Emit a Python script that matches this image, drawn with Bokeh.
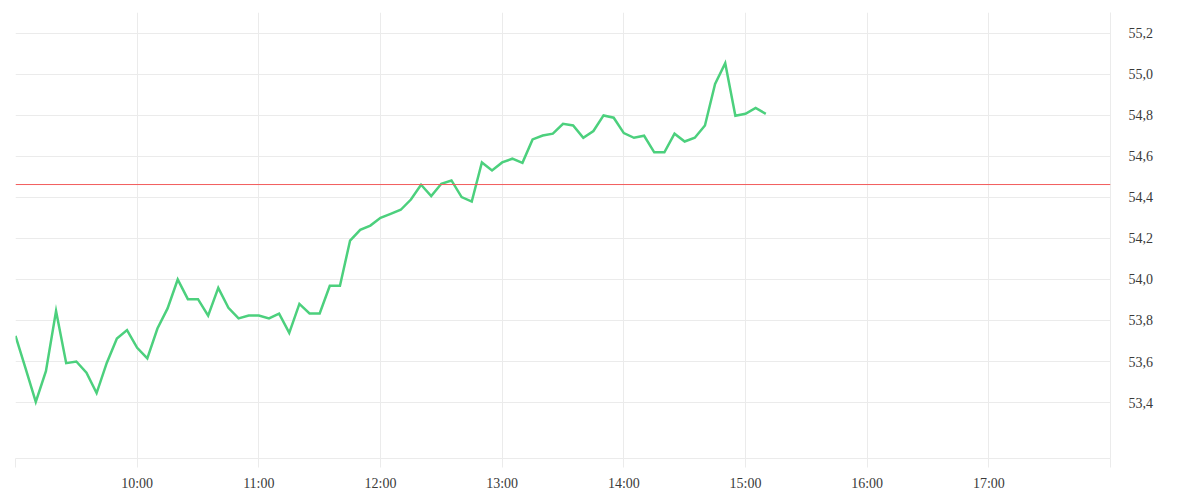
from bokeh.plotting import figure
from bokeh.models import Range1d, FixedTicker, Span, LinearAxis, ColumnDataSource
from bokeh.embed import file_html
from bokeh.resources import INLINE

times = ["09:00", "09:05", "09:10", "09:15", "09:20", "09:25", "09:30", "09:35", "09:40", "09:45",
         "09:50", "09:55", "10:00", "10:05", "10:10", "10:15", "10:20", "10:25", "10:30", "10:35",
         "10:40", "10:45", "10:50", "10:55", "11:00", "11:05", "11:10", "11:15", "11:20", "11:25",
         "11:30", "11:35", "11:40", "11:45", "11:50", "11:55", "12:00", "12:05", "12:10", "12:15",
         "12:20", "12:25", "12:30", "12:35", "12:40", "12:45", "12:50", "12:55", "13:00", "13:05",
         "13:10", "13:15", "13:20", "13:25", "13:30", "13:35", "13:40", "13:45", "13:50", "13:55",
         "14:00", "14:05", "14:10", "14:15", "14:20", "14:25", "14:30", "14:35", "14:40", "14:45",
         "14:50", "14:55", "15:00", "15:05", "15:10"]
prices = [53.725, 53.565, 53.403, 53.553, 53.846, 53.592, 53.600, 53.545, 53.446, 53.593,
          53.712, 53.753, 53.667, 53.615, 53.761, 53.859, 54.000, 53.904, 53.904, 53.824,
          53.959, 53.862, 53.810, 53.824, 53.824, 53.810, 53.833, 53.740, 53.881, 53.834,
          53.834, 53.969, 53.969, 54.190, 54.242, 54.263, 54.301, 54.320, 54.340, 54.390,
          54.462, 54.407, 54.467, 54.483, 54.402, 54.380, 54.571, 54.532, 54.571, 54.589,
          54.569, 54.683, 54.702, 54.711, 54.759, 54.751, 54.691, 54.724, 54.800, 54.789,
          54.714, 54.691, 54.701, 54.620, 54.620, 54.711, 54.673, 54.691, 54.751, 54.954,
          55.055, 54.798, 54.808, 54.837, 54.808]
reference_price = 54.463

x_hours = [9, 10, 11, 12, 13, 14, 15, 16, 17, 18]
x_labels = ["", "10:00", "11:00", "12:00", "13:00", "14:00", "15:00", "16:00", "17:00", ""]
y_ticks = [53.4, 53.6, 53.8, 54.0, 54.2, 54.4, 54.6, 54.8, 55.0, 55.2]
y_labels = ["53,4", "53,6", "53,8", "54,0", "54,2", "54,4", "54,6", "54,8", "55,0", "55,2"]


def to_hours(t):
    h, m = t.split(":")
    return int(h) + int(m) / 60.0


src = ColumnDataSource(dict(x=[to_hours(t) for t in times], y=prices))

GRID = "#ebebeb"
FONT = "Liberation Serif"
TEXT = "#3a3a3a"

p = figure(frame_width=1095, frame_height=446, output_backend="svg", toolbar_location=None,
           x_range=Range1d(9, 18), y_range=Range1d(53.127, 55.302),
           y_axis_location=None, min_border_left=15, min_border_top=12,
           min_border_right=5, min_border_bottom=0)
p.outline_line_color = None
p.background_fill_color = "white"
p.border_fill_color = "white"

# x axis
xa = p.xaxis[0]
xa.ticker = FixedTicker(ticks=x_hours)
xa.major_label_overrides = {h: l for h, l in zip(x_hours, x_labels)}
xa.minor_tick_line_color = None
xa.major_tick_in = 0
xa.major_tick_out = 9
xa.major_tick_line_color = GRID
xa.axis_line_color = GRID
xa.major_label_standoff = 8
xa.major_label_text_font = FONT
xa.major_label_text_font_size = "14px"
xa.major_label_text_color = TEXT

# right y axis
ya = LinearAxis(ticker=FixedTicker(ticks=y_ticks))
ya.major_label_overrides = {t: l for t, l in zip(y_ticks, y_labels)}
ya.minor_tick_line_color = None
ya.major_tick_in = 0
ya.major_tick_out = 0
ya.major_tick_line_color = None
ya.axis_line_color = GRID
ya.major_label_standoff = 18
ya.major_label_text_font = FONT
ya.major_label_text_font_size = "14px"
ya.major_label_text_color = TEXT
p.add_layout(ya, "right")

p.xgrid[0].ticker = FixedTicker(ticks=x_hours)
p.xgrid[0].grid_line_color = GRID
p.ygrid[0].ticker = FixedTicker(ticks=y_ticks)
p.ygrid[0].grid_line_color = GRID

p.add_layout(Span(location=reference_price, dimension="width", line_color="#f25c5c", line_width=1))
p.line("x", "y", source=src, line_color="#4cd07d", line_width=2.5, line_join="miter")

open("out.html", "w").write(file_html(p, INLINE))
